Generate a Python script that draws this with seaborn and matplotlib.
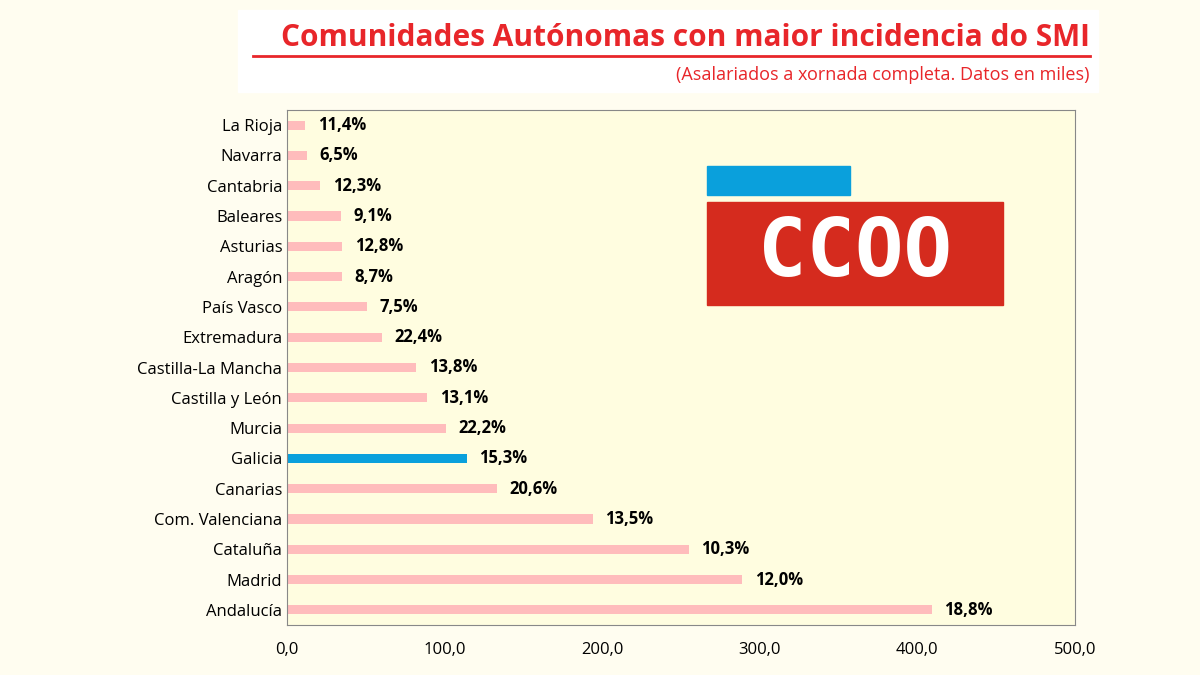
import matplotlib
matplotlib.use("Agg")
import matplotlib.pyplot as plt
import matplotlib.patches as mpatches
import seaborn as sns
import pandas as pd

regions = ['La Rioja', 'Navarra', 'Cantabria', 'Baleares', 'Asturias', 'Aragón',
           'País Vasco', 'Extremadura', 'Castilla-La Mancha', 'Castilla y León',
           'Murcia', 'Galicia', 'Canarias', 'Com. Valenciana', 'Cataluña',
           'Madrid', 'Andalucía']
values = [11.5, 12.7, 21.0, 34.0, 35.0, 35.0, 51.0, 60.0, 82.0, 89.0,
          101.0, 114.0, 133.0, 194.0, 255.0, 289.0, 409.0]
labels = ['11,4%', '6,5%', '12,3%', '9,1%', '12,8%', '8,7%', '7,5%', '22,4%',
          '13,8%', '13,1%', '22,2%', '15,3%', '20,6%', '13,5%', '10,3%',
          '12,0%', '18,8%']

df = pd.DataFrame({'region': regions, 'value': values})
colors = ['#0aa0dc' if r == 'Galicia' else '#ffbcbc' for r in regions]

plt.rcParams["font.family"] = "Open Sans"
fig = plt.figure(figsize=(12, 6.75), dpi=100, facecolor='#fffdf0')
ax = fig.add_axes([287/1200, 50/675, 788/1200, 515/675])
ax.set_facecolor('#fffde0')
sns.barplot(data=df, x='value', y='region', hue='region', palette=colors,
            legend=False, width=0.3, saturation=1, ax=ax)
for i, (v, t) in enumerate(zip(values, labels)):
    ax.text(v + 8, i, t, va='center', ha='left', fontsize=12, fontweight='bold')
ax.set_xlim(0, 500)
ax.set_xticks([0, 100, 200, 300, 400, 500])
ax.set_xticklabels(['0,0', '100,0', '200,0', '300,0', '400,0', '500,0'], fontsize=12)
ax.tick_params(axis='y', labelsize=12, length=0)
ax.tick_params(axis='x', length=0, pad=12)
ax.set_xlabel('')
ax.set_ylabel('')
for s in ax.spines.values():
    s.set_color('#888888')
    s.set_linewidth(0.8)

# title
fig.patches.append(mpatches.Rectangle((238/1200, 1-92/675), 860/1200, 82/675,
                   transform=fig.transFigure, color='white', zorder=0))
fig.text(1090/1200, 1-38/675, 'Comunidades Autónomas con maior incidencia do SMI',
         ha='right', va='center', fontsize=21.5, fontweight='bold', color='#e8262a')
fig.add_artist(plt.Line2D([253/1200, 1090/1200], [1-56/675, 1-56/675],
               transform=fig.transFigure, color='#e8262a', lw=2))
fig.text(1090/1200, 1-75/675, '(Asalariados a xornada completa. Datos en miles)',
         ha='right', va='center', fontsize=13, color='#e8262a')

# logo
fig.patches.append(mpatches.Rectangle((707/1200, 1-195/675), 143/1200, 29/675,
                   transform=fig.transFigure, color='#0aa0dc', zorder=5))
fig.patches.append(mpatches.Rectangle((707/1200, 1-305/675), 296/1200, 103/675,
                   transform=fig.transFigure, color='#d52b1e', zorder=5))
fig.text(855/1200, 1-254/675, 'CCOO', ha='center', va='center', fontsize=58,
         fontweight='bold', color='white', family='DejaVu Sans Mono', zorder=6)

fig.savefig('out.png', dpi=100, facecolor=fig.get_facecolor())
